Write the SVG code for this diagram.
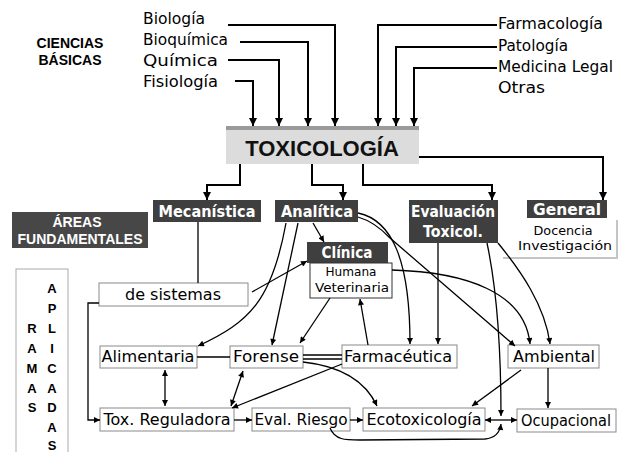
<svg xmlns="http://www.w3.org/2000/svg" width="619" height="452" viewBox="0 0 619 452">
<style>
.c{font-family:"DejaVu Sans",sans-serif;font-size:16px;fill:#000}
.s{font-family:"DejaVu Sans",sans-serif;font-size:13px;fill:#000}
.w{font-family:"DejaVu Sans",sans-serif;font-size:15px;font-weight:bold;fill:#fff}
.a{font-family:"Liberation Sans",Arial,sans-serif;font-weight:bold}
.d{fill:#3f3f3f}
.b{fill:#fff;stroke:#8a8a8a;stroke-width:1}
.k{fill:none;stroke:#000;stroke-width:2}
.t{fill:none;stroke:#000;stroke-width:1.3}
</style>
<defs>
<marker id="ah" viewBox="0 0 10 10" refX="10" refY="5" markerWidth="9" markerHeight="8" markerUnits="userSpaceOnUse" orient="auto"><path d="M0,0L10,5L0,10z" fill="#000"/></marker>
<marker id="as" viewBox="0 0 10 10" refX="10" refY="5" markerWidth="7" markerHeight="6" markerUnits="userSpaceOnUse" orient="auto-start-reverse"><path d="M0,0L10,5L0,10z" fill="#000"/></marker>
</defs>

<g id="ciencias-basicas">
<text class="a" x="70" y="48" font-size="14" text-anchor="middle">CIENCIAS</text>
<text class="a" x="70" y="65" font-size="14" text-anchor="middle">BÁSICAS</text>
</g>
<g id="basicas-izq">
<text class="c" x="143" y="24" textLength="62" lengthAdjust="spacingAndGlyphs">Biología</text>
<text class="c" x="143" y="45" textLength="85" lengthAdjust="spacingAndGlyphs">Bioquímica</text>
<text class="c" x="143" y="66" textLength="75" lengthAdjust="spacingAndGlyphs">Química</text>
<text class="c" x="143" y="87" textLength="75" lengthAdjust="spacingAndGlyphs">Fisiología</text>
</g>
<g id="basicas-der">
<text class="c" x="498" y="29" textLength="105" lengthAdjust="spacingAndGlyphs">Farmacología</text>
<text class="c" x="498" y="51" textLength="70" lengthAdjust="spacingAndGlyphs">Patología</text>
<text class="c" x="498" y="72" textLength="115" lengthAdjust="spacingAndGlyphs">Medicina Legal</text>
<text class="c" x="498" y="93" textLength="47" lengthAdjust="spacingAndGlyphs">Otras</text>
</g>

<g id="toxicologia">
<rect x="226" y="126" width="193" height="38" fill="#dcdcdc"/>
<rect x="226" y="126" width="193" height="4" fill="#9a9a9a"/>
<text class="a" x="322" y="156" font-size="22" text-anchor="middle" fill="#111">TOXICOLOGÍA</text>
</g>

<g id="areas-fundamentales">
<rect x="12" y="212" width="136" height="36" fill="#474747"/>
<text class="a" x="77" y="227" font-size="14" fill="#fff" text-anchor="middle">ÁREAS</text>
<text class="a" x="80" y="244" font-size="14" fill="#fff" text-anchor="middle">FUNDAMENTALES</text>
</g>

<g id="mecanistica">
<rect class="d" x="153" y="200" width="108" height="22"/>
<text class="w" x="207" y="217" text-anchor="middle" textLength="97" lengthAdjust="spacingAndGlyphs">Mecanística</text>
</g>
<g id="analitica">
<rect class="d" x="275" y="200" width="83" height="22"/>
<text class="w" x="317" y="217" text-anchor="middle" textLength="72" lengthAdjust="spacingAndGlyphs">Analítica</text>
</g>
<g id="evaluacion">
<rect class="d" x="409" y="200" width="89" height="43"/>
<text class="w" x="453" y="217" text-anchor="middle" textLength="84" lengthAdjust="spacingAndGlyphs">Evaluación</text>
<text class="w" x="453" y="237" text-anchor="middle" textLength="60" lengthAdjust="spacingAndGlyphs">Toxicol.</text>
</g>
<g id="general">
<path d="M617,220V258H503" fill="none" stroke="#c4c4c4" stroke-width="2"/>
<rect class="d" x="527" y="200" width="80" height="18"/>
<text class="w" x="567" y="215" text-anchor="middle" textLength="68" lengthAdjust="spacingAndGlyphs">General</text>
<text class="s" x="563" y="235" font-size="12" text-anchor="middle" textLength="59" lengthAdjust="spacingAndGlyphs">Docencia</text>
<text class="s" x="565" y="250" font-size="12" text-anchor="middle" textLength="94" lengthAdjust="spacingAndGlyphs">Investigación</text>
</g>
<g id="clinica">
<rect class="d" x="307" y="242" width="81" height="21"/>
<text class="w" x="347" y="258" text-anchor="middle" textLength="51" lengthAdjust="spacingAndGlyphs">Clínica</text>
<rect x="310" y="263" width="82" height="35" fill="#fff" stroke="#333" stroke-width="1"/>
<text class="s" x="351" y="276" text-anchor="middle" textLength="51" lengthAdjust="spacingAndGlyphs">Humana</text>
<text class="s" x="352" y="292" text-anchor="middle" textLength="74" lengthAdjust="spacingAndGlyphs">Veterinaria</text>
</g>

<g id="ramas-aplicadas">
<rect x="16" y="269" width="52" height="190" fill="none" stroke="#aaa" stroke-width="1"/>
<g class="a" font-size="13" text-anchor="middle">
<text x="52" y="293">A</text><text x="52" y="313">P</text><text x="52" y="333">L</text><text x="52" y="353">I</text><text x="52" y="373">C</text><text x="52" y="393">A</text><text x="52" y="412">D</text><text x="52" y="432">A</text><text x="52" y="450">S</text>
<text x="32" y="333">R</text><text x="32" y="353">A</text><text x="32" y="373">M</text><text x="32" y="393">A</text><text x="32" y="412">S</text>
</g>
</g>

<g id="de-sistemas"><rect class="b" x="99" y="283" width="149" height="23"/><text class="c" x="173" y="300" text-anchor="middle" textLength="96" lengthAdjust="spacingAndGlyphs">de sistemas</text></g>
<g id="alimentaria"><rect class="b" x="100" y="346" width="97" height="22"/><text class="c" x="148" y="362" text-anchor="middle" textLength="93" lengthAdjust="spacingAndGlyphs">Alimentaria</text></g>
<g id="forense"><rect class="b" x="230" y="346" width="73" height="22"/><text class="c" x="266" y="362" text-anchor="middle" textLength="66" lengthAdjust="spacingAndGlyphs">Forense</text></g>
<g id="farmaceutica"><rect class="b" x="342" y="345" width="115" height="23"/><text class="c" x="398" y="362" text-anchor="middle" textLength="108" lengthAdjust="spacingAndGlyphs">Farmacéutica</text></g>
<g id="ambiental"><rect class="b" x="508" y="345" width="91" height="23"/><text class="c" x="554" y="362" text-anchor="middle" textLength="82" lengthAdjust="spacingAndGlyphs">Ambiental</text></g>
<g id="tox-reguladora"><rect class="b" x="100" y="408" width="134" height="23"/><text class="c" x="167" y="425" text-anchor="middle" textLength="127" lengthAdjust="spacingAndGlyphs">Tox. Reguladora</text></g>
<g id="eval-riesgo"><rect class="b" x="252" y="408" width="98" height="23"/><text class="c" x="301" y="425" text-anchor="middle" textLength="93" lengthAdjust="spacingAndGlyphs">Eval. Riesgo</text></g>
<g id="ecotoxicologia"><rect class="b" x="363" y="408" width="122" height="23"/><text class="c" x="424" y="425" text-anchor="middle" textLength="115" lengthAdjust="spacingAndGlyphs">Ecotoxicología</text></g>
<g id="ocupacional"><rect class="b" x="517" y="409" width="99" height="23"/><text class="c" x="566" y="426" text-anchor="middle" textLength="90" lengthAdjust="spacingAndGlyphs">Ocupacional</text></g>

<g id="connectors">
<g class="k" marker-end="url(#ah)">
<path d="M228,25H335V126"/>
<path d="M240,42H308V126"/>
<path d="M228,60H279V126"/>
<path d="M235,81H253V126"/>
<path d="M497,25H378V126"/>
<path d="M497,47H396V126"/>
<path d="M497,68H414V126"/>
<path d="M240,164V185H207V200"/>
<path d="M312,164V185H343V200"/>
<path d="M363,164V185H492V200"/>
<path d="M419,157H603V200"/>
</g>
<path class="t" d="M198,222V283"/>
<path class="t" d="M99,303H88V420H100" marker-end="url(#as)"/>
<g class="t" marker-end="url(#as)">
<path d="M286,223C272,300 250,322 198,346"/>
<path d="M298,223L272,345"/>
<path d="M358,213C392,220 410,260 410,344"/>
<path d="M358,217Q375,222 390,238L515,346"/>
<path d="M392,270C465,272 525,292 530,344"/>
<path d="M330,298L300,343"/>
<path d="M368,345L360,299"/>
<path d="M252,292L307,261"/>
<path d="M313,223L324,242"/>
<path d="M438,243V344"/>
<path d="M487,243C497,290 501,350 501,416"/>
<path d="M498,243C520,270 545,305 550,344"/>
<path d="M303,362C340,366 365,380 377,406"/>
<path d="M342,364L232,408"/>
<path d="M234,420H252"/>
<path d="M350,420H363"/>
<path d="M521,370L472,406"/>
<path d="M548,368V408"/>
<path d="M330,428C335,440 345,440 360,440L485,439C495,438 500,432 501,424"/>
</g>
<g class="t" marker-start="url(#as)" marker-end="url(#as)">
<path d="M165,370V406"/>
<path d="M243,371L231,406"/>
<path d="M485,420H517"/>
</g>
<g class="t">
<path d="M197,357H230"/>
<path d="M303,355H342"/>
<path d="M303,359H342"/>
</g>
</g>
</svg>
